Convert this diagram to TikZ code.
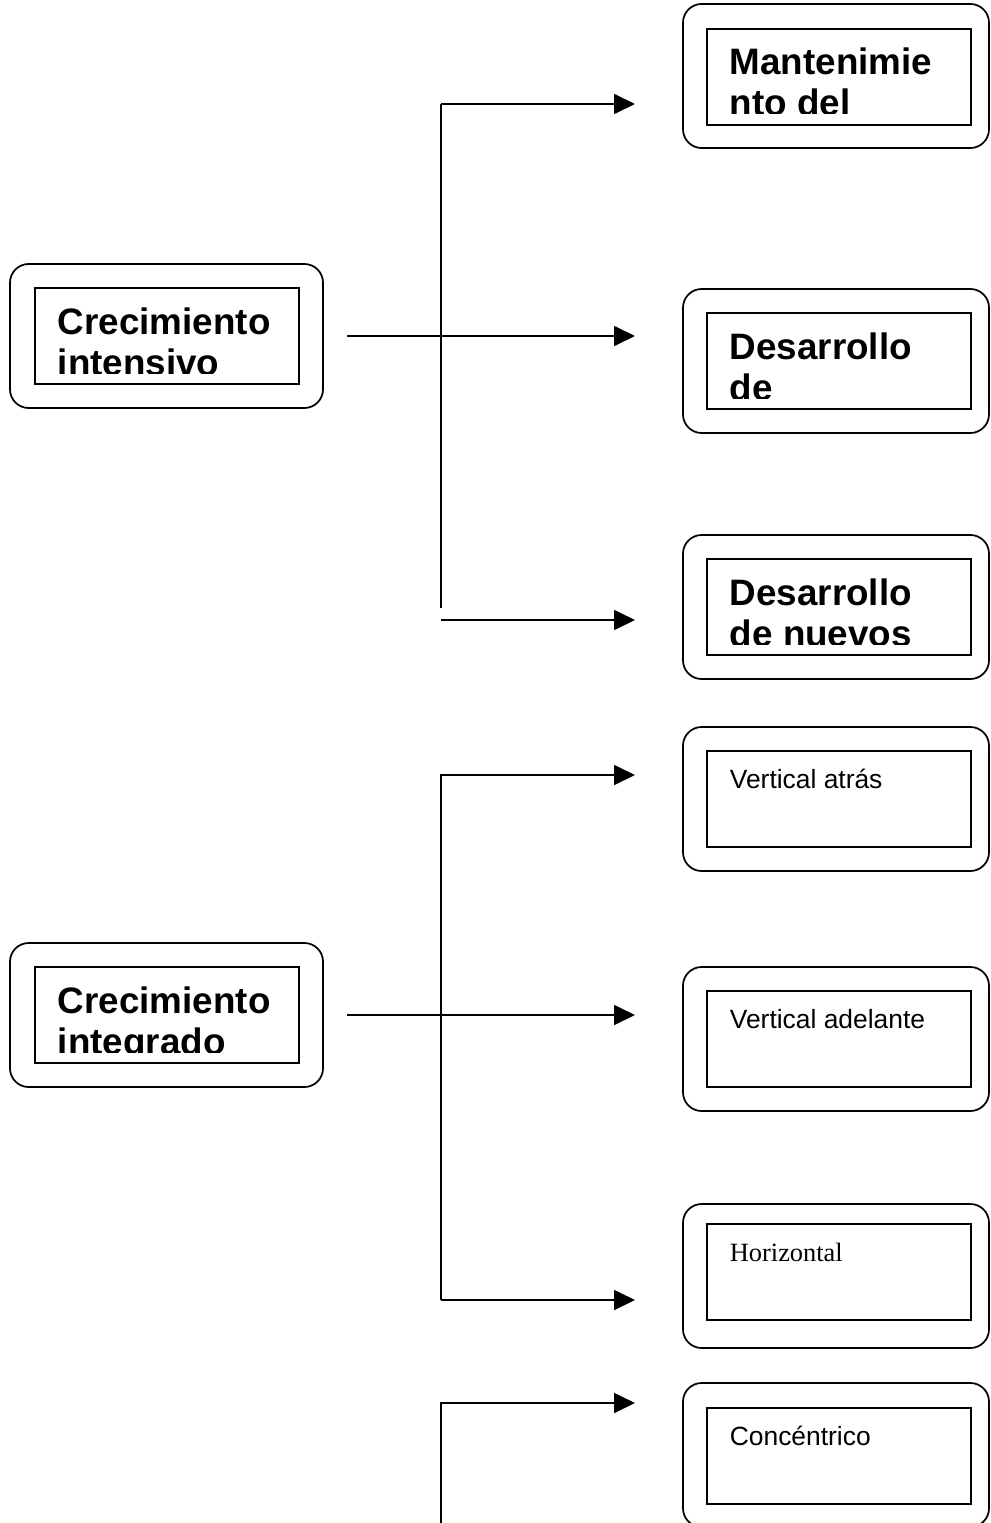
\documentclass[tikz,border=0pt]{standalone}
\usepackage{fontspec}
\setmainfont{Liberation Serif}
\setsansfont{Liberation Sans}
\usetikzlibrary{arrows.meta}

\begin{document}
\begin{tikzpicture}[x=.75pt,y=-.75pt,line width=1.3pt,
 marco/.style={rounded corners=14pt},
 titulo/.style={font=\sffamily\bfseries\fontsize{27.6}{31}\selectfont,anchor=base west,inner sep=0pt},
 rotulo/.style={font=\sffamily\fontsize{19.8}{23}\selectfont,anchor=base west,inner sep=0pt},
 flecha/.style={-{Triangle[length=15.75pt,width=15pt]}}]
\clip (0,0) rectangle (991,1523);
% marcos
\foreach \ya/\yb in {264/288,943/967}{
 \draw[marco] (10,\ya) rectangle (323,\ya+144);
 \draw (35,\yb) rectangle (299,\yb+96);}
\foreach \ya/\yb in {4/29,289/313,535/559,727/751,967/991,1204/1224,1383/1408}{
 \draw[marco] (683,\ya) rectangle (989,\ya+144);
 \draw (707,\yb) rectangle (971,\yb+96);}
% textos en negrita, cortados por abajo
\foreach \n/\x/\y/\a/\b in {ci/35/288/Crecimiento/intensivo,cg/35/967/Crecimiento/integrado,
 m1/707/29/Mantenimie/nto del,m2/707/313/Desarrollo/de,m3/707/559/Desarrollo/de nuevos}{
 \begin{scope}
 \clip (\x,\y) rectangle (\x+264,\y+85);
 \node[titulo] (\n-1) at (\x+22,\y+46) {\a};
 \node[titulo] (\n-2) at (\x+22,\y+87) {\b};
 \end{scope}}
\node[rotulo] (va) at (729,788) {Vertical atrás};
\node[rotulo] (vd) at (729,1028) {Vertical adelante};
\node[rotulo,font=\rmfamily\fontsize{19.8}{23}\selectfont] (ho) at (729,1261) {Horizontal};
\node[rotulo] (co) at (729,1445) {Concéntrico};
% conectores
\coordinate (s1) at (347,336);
\coordinate (s2) at (347,1015);
\coordinate (g1a) at (441,104);
\coordinate (g1b) at (441,608);
\coordinate (g1c) at (441,620);
\coordinate (g2a) at (441,775);
\coordinate (g2b) at (441,1300);
\coordinate (g3a) at (441,1403);
\coordinate (g3b) at (441,1530);
\foreach \c/\y in {p1/104,p2/336,p3/620,p4/775,p5/1015,p6/1300,p7/1403}{\coordinate (\c) at (635,\y);}
\draw (g1a) -- (g1b);
\draw[flecha] (g1a) -- (p1);
\draw[flecha] (s1) -- (p2);
\draw[flecha] (g1c) -- (p3);
\draw[flecha] (g2b) -- (g2a) -- (p4);
\draw[flecha] (s2) -- (p5);
\draw[flecha] (g2b) -- (p6);
\draw[flecha] (g3b) -- (g3a) -- (p7);
\end{tikzpicture}
\end{document}
